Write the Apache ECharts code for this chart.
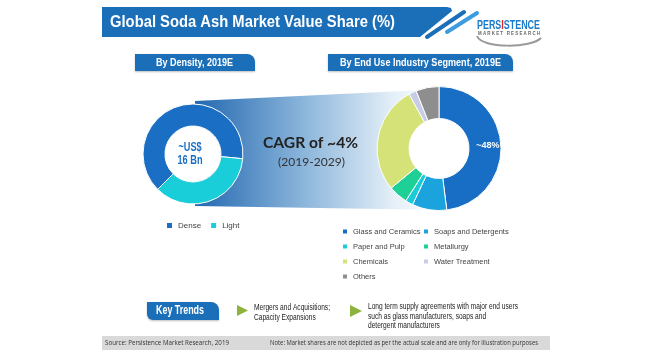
<!DOCTYPE html>
<html>
<head>
<meta charset="utf-8">
<script src="https://cdn.jsdelivr.net/npm/echarts@6/dist/echarts.min.js"></script>
<style>html,body{margin:0;padding:0;background:#fff}#c{width:654px;height:350px}</style>
</head>
<body>
<div id="c"></div>
<script>
// ---- data ----
var densityCategories = ['Dense', 'Light'];
var densityValues = [64, 36];
var segmentCategories = ['Glass and Ceramics', 'Soaps and Detergents', 'Paper and Pulp', 'Metallurgy', 'Chemicals', 'Water Treatment', 'Others'];
var segmentValues = [48, 9, 2, 5, 28, 2, 6];
var legendCol1 = ['Glass and Ceramics', 'Paper and Pulp', 'Chemicals', 'Others'];
var legendCol2 = ['Soaps and Detergents', 'Metallurgy', 'Water Treatment'];
var trend1 = ['Mergers and Acquisitions;', 'Capacity Expansions'];
var trend2 = ['Long term supply agreements with major end users', 'such as glass manufacturers, soaps and', 'detergent manufacturers'];

var densityColors = ['#1a6fc4', '#19cdd9'];
var segmentColors = ['#176ec4', '#1ba3dd', '#1ccbd8', '#1ecf96', '#d4e277', '#c8cde6', '#8e8e8e'];

var SANS = '"Liberation Sans", Arial, sans-serif';
var CAL = 'Lato, "Open Sans", sans-serif';
var BLUE = '#1b6fb9';

var mctx = document.createElement('canvas').getContext('2d');
function fitScale(text, weight, size, family, target) {
  mctx.font = weight + ' ' + size + 'px ' + family;
  var w = 0;
  String(text).split('\n').forEach(function (l) { w = Math.max(w, mctx.measureText(l).width); });
  return target / w;
}
// scaled text helper (condensed look)
function stext(o) {
  var s = fitScale(o.measure || o.text, o.weight || 'normal', o.size, o.family || SANS, o.target);
  var st = {text: o.text, fill: o.fill || '#222', fontSize: o.size, fontWeight: o.weight || 'normal',
    fontFamily: o.family || SANS, align: o.align || 'left', verticalAlign: o.va || 'middle'};
  if (o.lineHeight) st.lineHeight = o.lineHeight;
  if (o.rich) st.rich = o.rich;
  return {type: 'text', z: o.z || 5, x: o.x, y: o.y, scaleX: s, originX: 0, originY: 0, style: st};
}

var chart = echarts.init(document.getElementById('c'), null, {renderer: 'canvas'});

function pieData(names, vals, colors) {
  return names.map(function (n, i) {
    return {name: n, value: vals[i], itemStyle: {color: colors[i]}};
  });
}
var segData = pieData(segmentCategories, segmentValues, segmentColors);
segData[0].label = {show: true, position: 'inside', formatter: '~48%', color: '#fff', fontSize: 9, fontWeight: 'bold', fontFamily: SANS};

var legendText = {fontSize: 7.5, color: '#444', fontFamily: SANS, lineHeight: 11};
var legendTextL = {fontSize: 8, color: '#444', fontFamily: SANS, lineHeight: 11};

var option = {
  backgroundColor: '#ffffff',
  animation: false,
  legend: [
    {data: densityCategories, orient: 'horizontal', left: 165, top: 220, padding: 0, itemWidth: 7, itemHeight: 7, itemGap: 8, icon: 'rect', textStyle: legendTextL, selectedMode: false},
    {data: legendCol1, orient: 'vertical', left: 341, top: 226, padding: 0, itemWidth: 6, itemHeight: 6, itemGap: 4, icon: 'rect', textStyle: legendText, selectedMode: false},
    {data: legendCol2, orient: 'vertical', left: 422, top: 226, padding: 0, itemWidth: 6, itemHeight: 6, itemGap: 4, icon: 'rect', textStyle: legendText, selectedMode: false}
  ],
  graphic: [
    // gradient band between donuts
    {type: 'polygon', z: 0, shape: {points: [[195, 101], [445, 89], [445, 210], [195, 206]]},
      style: {fill: new echarts.graphic.LinearGradient(0, 0, 1, 0, [
        {offset: 0, color: '#2368b0'}, {offset: 0.45, color: '#8fb8dc'}, {offset: 0.8, color: '#e6f0f8'}, {offset: 1, color: '#ffffff'}])}},
    // donut holes (white)
    {type: 'circle', z: 1, shape: {cx: 193, cy: 154, r: 28}, style: {fill: '#fff'}},
    {type: 'circle', z: 1, shape: {cx: 439, cy: 148.5, r: 30}, style: {fill: '#fff'}},
    // title banner
    {type: 'polygon', z: 1, shape: {points: [[102, 7], [447, 7], [451, 8], [452, 11], [420, 37], [102, 37]]}, style: {fill: BLUE}},
    {type: 'line', z: 1, shape: {x1: 427, y1: 37, x2: 464, y2: 12}, style: {stroke: BLUE, lineWidth: 4, lineCap: 'round'}},
    {type: 'line', z: 1, shape: {x1: 447, y1: 32, x2: 477, y2: 13}, style: {stroke: '#3b9de0', lineWidth: 4, lineCap: 'round'}},
    stext({text: 'Global Soda Ash Market Value Share (%)', x: 110, y: 22.5, size: 17, weight: 'bold', fill: '#fff', target: 285}),
    // logo
    {type: 'bezierCurve', z: 1, shape: {x1: 477, y1: 36, cpx1: 482, cpy1: 49, cpx2: 532, cpy2: 48, x2: 541, y2: 38}, style: {stroke: '#9a9a9a', lineWidth: 2, fill: null}},
    stext({text: '{a|PERS}{b|I}{a|STENCE}', measure: 'PERSISTENCE', x: 477, y: 25.5, size: 12, weight: 'bold', fill: '#1b7ac8', target: 63,
      rich: {a: {fill: '#1b7ac8', fontSize: 12, fontWeight: 'bold', fontFamily: SANS}, b: {fill: '#e02424', fontSize: 12, fontWeight: 'bold', fontFamily: SANS}}}),
    stext({text: 'M A R K E T   R E S E A R C H', x: 478, y: 33.5, size: 5, weight: 'bold', fill: '#666', target: 62}),
    // sub tabs
    {type: 'rect', z: 1, shape: {x: 135, y: 54, width: 120, height: 17, r: [0, 8, 0, 0]}, style: {fill: BLUE, shadowBlur: 2, shadowColor: 'rgba(0,0,0,0.25)', shadowOffsetY: 1}},
    stext({text: 'By Density, 2019E', x: 194.5, y: 63, size: 11, weight: 'bold', fill: '#fff', align: 'center', target: 77}),
    {type: 'rect', z: 1, shape: {x: 328, y: 54, width: 185, height: 17, r: [0, 8, 0, 0]}, style: {fill: BLUE, shadowBlur: 2, shadowColor: 'rgba(0,0,0,0.25)', shadowOffsetY: 1}},
    stext({text: 'By End Use Industry Segment, 2019E', x: 420.5, y: 63, size: 11, weight: 'bold', fill: '#fff', align: 'center', target: 161}),
    // donut center text
    stext({text: '~US$\n16 Bn', x: 190, y: 154, size: 12, lineHeight: 12.5, weight: 'bold', fill: '#1a6fc4', align: 'center', target: 25}),
    // CAGR
    stext({text: 'CAGR of ~4%', x: 310.5, y: 142.5, size: 16, weight: 'bold', fill: '#222', family: CAL, align: 'center', target: 95}),
    stext({text: '(2019-2029)', x: 311.5, y: 162, size: 12, fill: '#333', family: CAL, align: 'center', target: 67}),
    // key trends
    {type: 'rect', z: 1, shape: {x: 147, y: 302, width: 72, height: 18, r: [0, 8, 0, 6]}, style: {fill: BLUE, shadowBlur: 2, shadowColor: 'rgba(0,0,0,0.25)', shadowOffsetY: 1}},
    stext({text: 'Key Trends', x: 180, y: 310.5, size: 12, weight: 'bold', fill: '#fff', align: 'center', target: 48}),
    {type: 'polygon', z: 1, shape: {points: [[237, 305], [248, 310.5], [237, 316]]}, style: {fill: '#8cb33b'}},
    {type: 'polygon', z: 1, shape: {points: [[350, 305], [362, 311], [350, 317]]}, style: {fill: '#8cb33b'}},
    stext({text: trend1.join('\n'), x: 254, y: 303, va: 'top', size: 9, lineHeight: 10, fill: '#222', target: 76}),
    stext({text: trend2.join('\n'), x: 368, y: 302, va: 'top', size: 9, lineHeight: 9.5, fill: '#222', target: 150}),
    // footer
    {type: 'rect', z: 1, shape: {x: 102, y: 336, width: 448, height: 14}, style: {fill: '#d9d9d9'}},
    stext({text: 'Source: Persistence Market Research, 2019', x: 105, y: 343, size: 7, fill: '#333', family: '"Open Sans", sans-serif', target: 124}),
    stext({text: 'Note: Market shares are not depicted as per the actual scale and are only for illustration purposes', x: 270, y: 343, size: 7, fill: '#333', family: '"Open Sans", sans-serif', target: 268})
  ],
  series: [
    {
      type: 'pie', name: 'Density', z: 3,
      center: [193, 154], radius: [28, 50], startAngle: 225, clockwise: true,
      label: {show: false}, labelLine: {show: false}, emphasis: {disabled: true}, silent: true,
      itemStyle: {borderColor: '#fff', borderWidth: 1},
      data: pieData(densityCategories, densityValues, densityColors)
    },
    {
      type: 'pie', name: 'Segment', z: 3,
      center: [439, 148.5], radius: [30, 62], startAngle: 90, clockwise: true,
      label: {show: false}, labelLine: {show: false}, emphasis: {disabled: true}, silent: true,
      itemStyle: {borderColor: '#fff', borderWidth: 1},
      data: segData
    }
  ]
};
chart.setOption(option);
</script>
</body>
</html>
